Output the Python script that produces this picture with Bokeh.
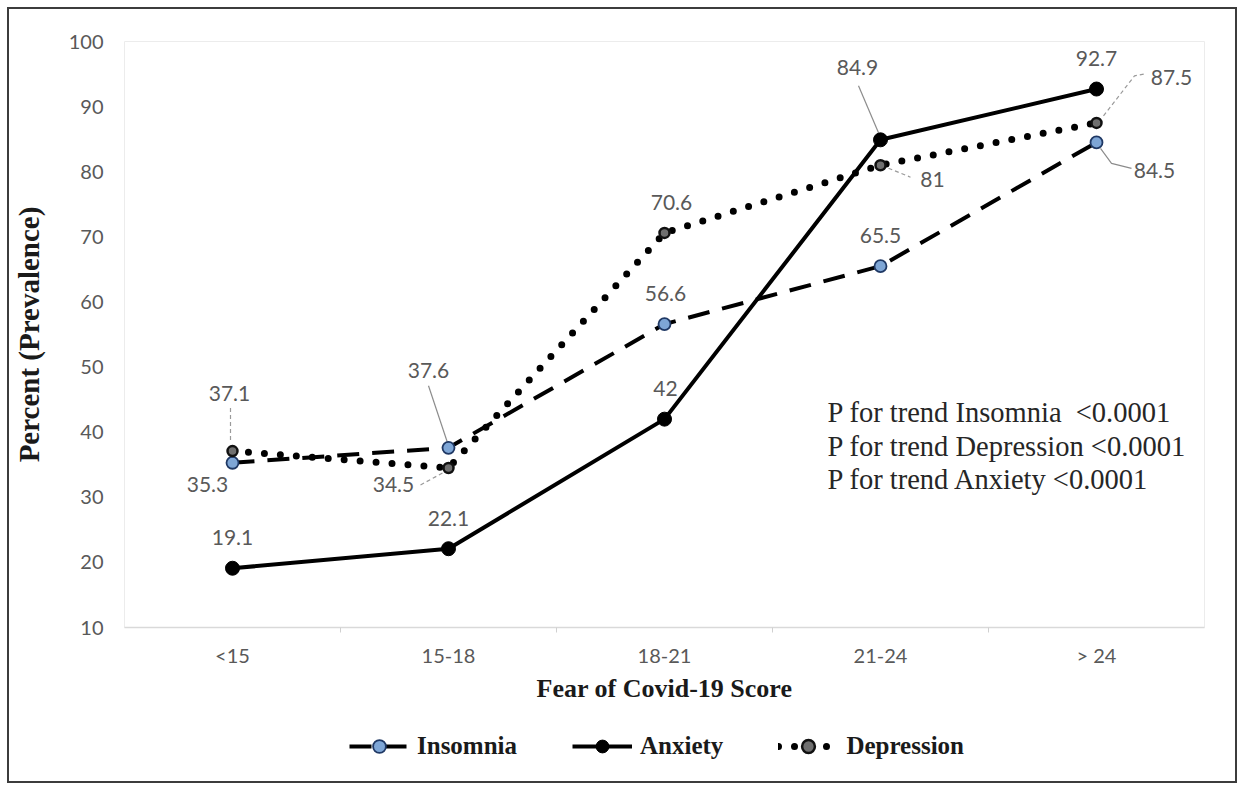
from bokeh.plotting import figure
from bokeh.layouts import column
from bokeh.models import Range1d, FixedTicker, Legend, LegendItem, Label, ColumnDataSource
from bokeh.embed import file_html
from bokeh.resources import INLINE
from bokeh.core.properties import value

# ---------------- data ----------------
categories = ["<15", "15-18", "18-21", "21-24", "> 24"]
insomnia = [35.3, 37.6, 56.6, 65.5, 84.5]
anxiety = [19.1, 22.1, 42.0, 84.9, 92.7]
depression = [37.1, 34.5, 70.6, 81.0, 87.5]
y_ticks = [10, 20, 30, 40, 50, 60, 70, 80, 90, 100]
series_names = ["Insomnia", "Anxiety", "Depression"]
trend_lines = ["P for trend Insomnia\u00a0 <0.0001",
               "P for trend Depression <0.0001",
               "P for trend Anxiety <0.0001"]

# ---------------- styling / layout ----------------
MARGIN = 9
W = 1226
H1, H2 = 706, 66
FL, FT, FW, FH = 115, 32, 1080, 586
XMIN, XMAX, YMIN, YMAX = -0.5, 4.5, 10, 100
PX_X = (XMAX - XMIN) / FW      # data units per pixel
PX_Y = (YMAX - YMIN) / FH

TICK_FONT = "Lato"
SERIF = "Liberation Serif"
GRAY = "#595959"

STYLE = {
    "Insomnia": dict(line=dict(line_color="black", line_width=4, line_dash="22 13"),
                     pts=dict(size=12, fill_color="#7ea6d6", line_color="#1f3864",
                              line_width=1.8)),
    "Anxiety": dict(line=dict(line_color="black", line_width=4),
                    pts=dict(size=14, fill_color="black", line_color="black")),
    "Depression": dict(line=dict(line_color="black", line_width=7, line_dash="0 16",
                                 line_cap="round"),
                       pts=dict(size=10, fill_color="#6f6f6f", line_color="#111111",
                                line_width=2.5)),
}

# label offsets in pixels (dx, dy) relative to the marker, screen y down
ins_off = [(-25, 22), (-20, -77), (1, -31), (0, -31), (58, 28)]
anx_off = [(0, -31), (0, -30), (1, -31), (-23, -72), (0, -31)]
dep_off = [(-3, -58), (-55, 17), (7, -30), (52, 14), (75, -45)]

# leader lines: (series, index, pixel path, dashed)
leaders = [
    ("ins", 1, [(-20, -62), (-1, -5)], False),
    ("ins", 4, [(4, 6), (15, 21), (35, 26)], False),
    ("anx", 3, [(-22, -54), (-2, -7)], False),
    ("dep", 0, [(-2, -43), (-2, -8)], True),
    ("dep", 1, [(-28, 17), (-6, 5)], True),
    ("dep", 3, [(8, 3), (30, 12)], True),
    ("dep", 4, [(7, -7), (38, -47), (48, -49)], True),
]

x = list(range(len(categories)))
series = {"ins": insomnia, "anx": anxiety, "dep": depression}
values_by_name = {"Insomnia": insomnia, "Anxiety": anxiety, "Depression": depression}

p = figure(width=W, height=H1, output_backend="svg", toolbar_location=None, title=None,
           x_range=Range1d(XMIN, XMAX), y_range=Range1d(YMIN, YMAX),
           min_border_left=FL, min_border_top=FT,
           min_border_right=W - FL - FW, min_border_bottom=H1 - FT - FH,
           background_fill_color="white", border_fill_color="white")

p.outline_line_color = "#ececec"
p.outline_line_width = 1
p.xgrid.visible = False
p.ygrid.visible = False

# x axis
p.xaxis.ticker = FixedTicker(ticks=x, minor_ticks=[0.5, 1.5, 2.5, 3.5])
p.xaxis.major_label_overrides = {i: c for i, c in enumerate(categories)}
p.xaxis.major_tick_line_color = None
p.xaxis.minor_tick_line_color = "#d0d0d0"
p.xaxis.minor_tick_out = 5
p.xaxis.minor_tick_in = 0
p.xaxis.axis_line_color = "#d9d9d9"
p.xaxis.axis_line_width = 1.5
p.xaxis.major_label_text_font = TICK_FONT
p.xaxis.major_label_text_font_size = "20px"
p.xaxis.major_label_text_color = GRAY
p.xaxis.major_label_standoff = 9
p.xaxis.axis_label = "Fear of Covid-19 Score"
p.xaxis.axis_label_text_font = SERIF
p.xaxis.axis_label_text_font_style = "bold"
p.xaxis.axis_label_text_font_size = "26px"
p.xaxis.axis_label_text_color = "#1a1a1a"
p.xaxis.axis_label_standoff = 4

# y axis
p.yaxis.ticker = FixedTicker(ticks=y_ticks)
p.yaxis.axis_line_color = None
p.yaxis.major_tick_line_color = None
p.yaxis.minor_tick_line_color = None
p.yaxis.major_label_text_font = TICK_FONT
p.yaxis.major_label_text_font_size = "20px"
p.yaxis.major_label_text_color = GRAY
p.yaxis.major_label_standoff = 15
p.yaxis.axis_label = "Percent (Prevalence)"
p.yaxis.axis_label_text_font = SERIF
p.yaxis.axis_label_text_font_style = "bold"
p.yaxis.axis_label_text_font_size = "29px"
p.yaxis.axis_label_text_color = "#1a1a1a"
p.yaxis.axis_label_standoff = 21

# leader lines
for dashed in (False, True):
    xs, ys = [], []
    for key, i, path, d in leaders:
        if d != dashed:
            continue
        vals = series[key]
        xs.append([x[i] + dx * PX_X for dx, dy in path])
        ys.append([vals[i] - dy * PX_Y for dx, dy in path])
    p.multi_line(xs, ys, line_color="#9a9a9a" if dashed else "#8c8c8c",
                 line_width=1.2, line_dash="4 3" if dashed else "solid")

# series (draw order: insomnia, depression, anxiety)
for name in ("Insomnia", "Depression", "Anxiety"):
    p.line(x, values_by_name[name], **STYLE[name]["line"])
for name in ("Insomnia", "Depression", "Anxiety"):
    p.scatter(x, values_by_name[name], **STYLE[name]["pts"])

# data labels
lx, ly, lt, ldx, ldy = [], [], [], [], []
for vals, offs in ((insomnia, ins_off), (anxiety, anx_off), (depression, dep_off)):
    for i, v in enumerate(vals):
        lx.append(x[i]); ly.append(v); lt.append(f"{v:g}")
        ldx.append(offs[i][0]); ldy.append(offs[i][1])
src = ColumnDataSource(dict(x=lx, y=ly, t=lt, dx=ldx, dy=ldy))
p.text(x="x", y="y", text="t", x_offset="dx", y_offset="dy", source=src,
       text_font=value(TICK_FONT), text_font_size="21px", text_color=GRAY,
       text_align="center", text_baseline="middle")

# trend text box
for k, line in enumerate(trend_lines):
    p.add_layout(Label(x=703, y=215 - 33.5 * k, x_units="screen", y_units="screen",
                       text=line, text_font=SERIF, text_font_size="28.5px",
                       text_color="#262626", text_baseline="middle", text_align="left"))

# ---------------- legend strip ----------------
# the same series are drawn here, but outside this strip's visible range, so only
# their legend glyphs show
q = figure(width=W, height=H2, output_backend="svg", toolbar_location=None, title=None,
           x_axis_location=None, y_axis_location=None, min_border=0,
           x_range=Range1d(XMIN, XMAX), y_range=Range1d(0, 1),
           background_fill_color="white", border_fill_color="white")
q.outline_line_color = None
q.xgrid.visible = False
q.ygrid.visible = False
items = []
for name in series_names:
    r_line = q.line(x, values_by_name[name], **STYLE[name]["line"])
    r_pts = q.scatter(x, values_by_name[name], **STYLE[name]["pts"])
    items.append(LegendItem(label=name, renderers=[r_line, r_pts]))
legend = Legend(items=items, orientation="horizontal", location=(225, 19),
                label_text_font=SERIF, label_text_font_style="bold",
                label_text_font_size="25px", label_text_color="#1a1a1a",
                glyph_width=60, glyph_height=32, spacing=55, label_standoff=8,
                border_line_color=None, background_fill_alpha=0, padding=0, margin=0)
q.add_layout(legend, "center")

page = column(p, q, spacing=0,
              styles={"margin-left": f"{MARGIN}px", "margin-top": f"{MARGIN}px",
                      "outline": "2px solid #3c3c3c", "outline-offset": "0px"})

open("out.html", "w").write(file_html(page, INLINE))
